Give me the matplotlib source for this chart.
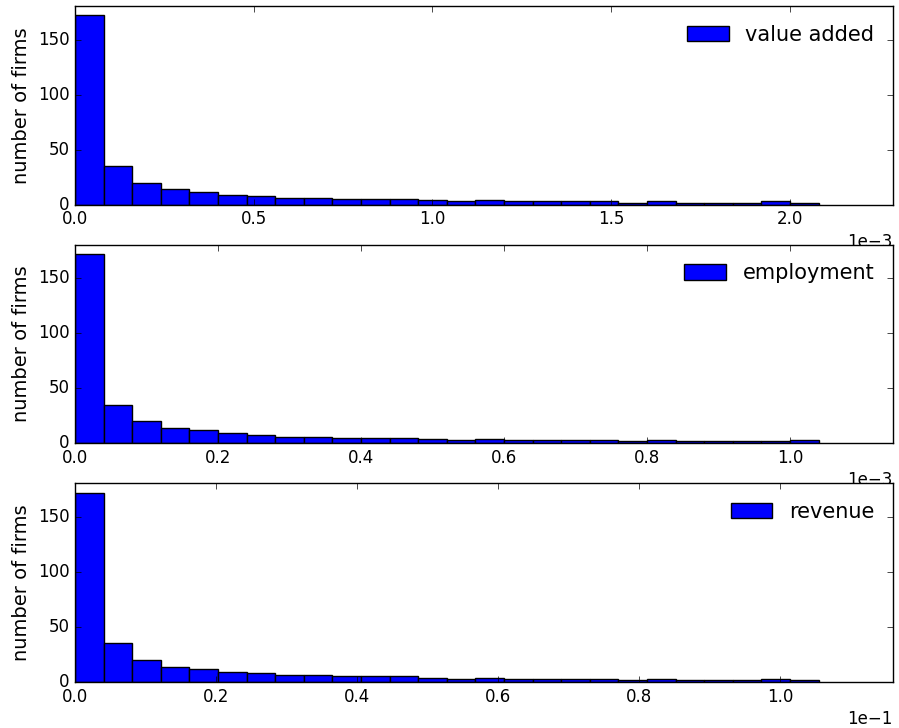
import numpy as np
import matplotlib
matplotlib.use('Agg')
import matplotlib.pyplot as plt
plt.style.use('classic')

# histogram counts per bin (26 equal bins from 0 to the largest share)
value_added_counts = [172, 35, 20, 14, 12, 9, 8, 6, 6, 5, 5, 5, 4, 3, 4,
                      3, 3, 3, 3, 2, 3, 2, 2, 2, 3, 2]
employment_counts = [172, 35, 20, 14, 12, 9, 8, 6, 6, 5, 5, 5, 4, 3, 4,
                     3, 3, 3, 3, 2, 3, 2, 2, 2, 2, 3]
revenue_counts = [172, 35, 20, 14, 12, 9, 8, 6, 6, 5, 5, 5, 4, 3, 4,
                  3, 3, 3, 3, 2, 3, 2, 2, 2, 3, 2]
value_added_max = 2.08e-3
employment_max = 1.04e-3
revenue_max = 1.055e-1

labels = ['value added', 'employment', 'revenue']
counts = [value_added_counts, employment_counts, revenue_counts]
maxima = [value_added_max, employment_max, revenue_max]

fig, axes = plt.subplots(nrows=3, ncols=1, figsize=(8.99, 7.28), dpi=100)
fig.patch.set_facecolor('white')
fig.subplots_adjust(left=0.0834, right=0.9933, top=0.9918, bottom=0.0632, hspace=0.2)

for ax, lab, c, m in zip(axes, labels, counts, maxima):
    edges = np.linspace(0, m, len(c) + 1)
    ax.bar(edges[:-1], c, width=np.diff(edges), align='edge',
           color='blue', edgecolor='black', linewidth=1.0, label=lab)
    ax.set_xlim(0, 1.1 * m)
    ax.set_ylim(0, 1.05 * max(c))
    ax.set_yticks([0, 50, 100, 150])
    ax.ticklabel_format(axis='x', style='sci', scilimits=(0, 0))
    ax.set_ylabel('number of firms', fontsize=14)
    ax.legend(loc='upper right', frameon=False, fontsize=15, handleheight=0.75)

fig.savefig('out.png', dpi=100, facecolor='white')
